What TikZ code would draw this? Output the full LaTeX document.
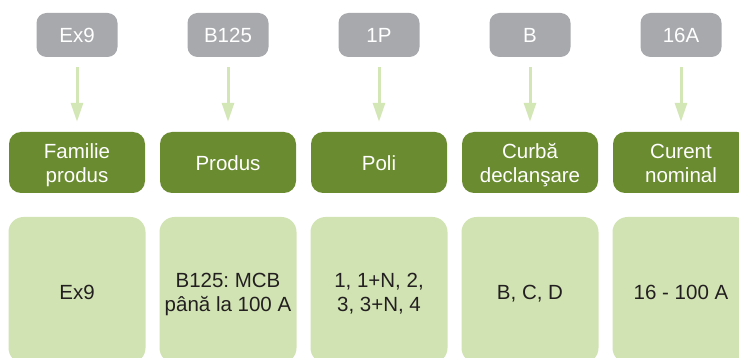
\documentclass[tikz,border=0pt]{standalone}
\usepackage{fontspec}
\setmainfont{Liberation Sans}
\usetikzlibrary{arrows.meta}
\frenchspacing
\definecolor{tagGrey}{HTML}{A7A9AC}
\definecolor{headGreen}{HTML}{6A8B2F}
\definecolor{cellGreen}{HTML}{D1E3B3}
\definecolor{arrowGreen}{HTML}{D3E6B6}
\definecolor{txtDark}{HTML}{231F20}
\tikzset{
  tagbox/.style={fill=tagGrey, rounded corners=10pt, minimum width=81pt, minimum height=44pt,
    text=white, font=\fontsize{20.5pt}{24pt}\selectfont, inner sep=0pt},
  headbox/.style={fill=headGreen, rounded corners=12pt, minimum width=136pt, minimum height=61pt,
    text=white, font=\fontsize{20.5pt}{24pt}\selectfont, align=center, inner sep=0pt},
  cellbox/.style={fill=cellGreen, rounded corners=15pt, minimum width=137pt, minimum height=146pt,
    text=txtDark, font=\fontsize{20.5pt}{24pt}\selectfont, align=center, inner sep=0pt},
  flow/.style={draw=arrowGreen, line width=3pt, -{Triangle[width=12pt,length=19pt]},
    shorten <=10pt, shorten >=10pt}
}
\begin{document}
\begin{tikzpicture}[x=1pt,y=-1pt]
\useasboundingbox (0,0) rectangle (739,358);
\clip (0,0) rectangle (739,358);
\foreach \i/\x/\tag/\head/\cell in {
  1/77/Ex9/{Familie\\produs}/Ex9,
  2/228/B125/Produs/{B125: MCB\\până la 100 A},
  3/379/1P/Poli/{1, 1+N, 2,\\3, 3+N, 4},
  4/530/B/{Curbă\\declanşare}/{B, C, D},
  5/681/16A/{Curent\\nominal}/{16 - 100 A}}{
  \node[tagbox] (t\i) at (\x,35) {\tag};
  \node[headbox] (h\i) at (\x,162.5) {};
  \node[headbox, fill=none, minimum width=0pt, minimum height=0pt] (hl\i) at ([yshift=-3.2pt]h\i.center) {\strut\head\strut};
  \node[cellbox] (c\i) at (\x,290) {};
  \node[cellbox, fill=none, minimum width=0pt, minimum height=0pt] (cl\i) at ([yshift=-4.5pt]c\i.center) {\strut\cell\strut};
  \draw[flow] (t\i) -- (h\i);
}
\end{tikzpicture}
\end{document}
